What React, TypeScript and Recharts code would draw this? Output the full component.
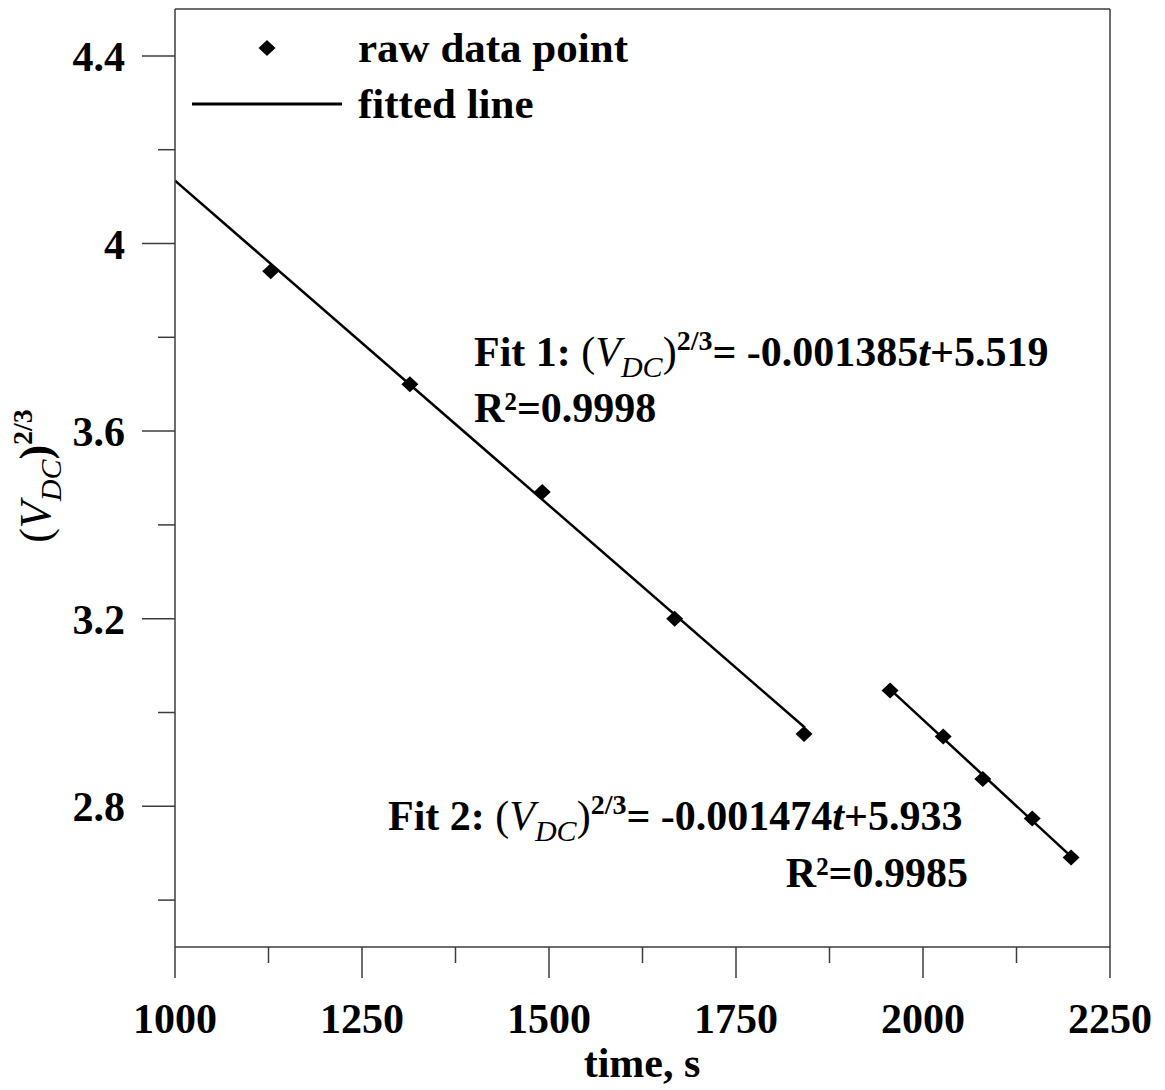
import React from 'react';
import { ComposedChart, Scatter, Line, XAxis, YAxis, ReferenceLine, Customized } from 'recharts';

// ---- data ----
const rawTime = [1128, 1314, 1491, 1668, 1841, 1956, 2027, 2080, 2146, 2198];
const rawValue = [3.941, 3.7, 3.47, 3.2, 2.954, 3.047, 2.949, 2.858, 2.774, 2.691];
const fit1Time = [1000, 1842];
const fit1Value = [4.134, 2.968];
const fit2Time = [1955, 2200];
const fit2Value = [3.051, 2.69];
const xTicks = [1000, 1125, 1250, 1375, 1500, 1625, 1750, 1875, 2000, 2125, 2250];
const xTickLabels = ['1000', '', '1250', '', '1500', '', '1750', '', '2000', '', '2250'];
const yTicks = [2.6, 2.8, 3.0, 3.2, 3.4, 3.6, 3.8, 4.0, 4.2, 4.4];
const yTickLabels = ['', '2.8', '', '3.2', '', '3.6', '', '4', '', '4.4'];

const rawData = rawTime.map((t, i) => ({ t, v: rawValue[i] }));
const fit1Data = fit1Time.map((t, i) => ({ t, v: fit1Value[i] }));
const fit2Data = fit2Time.map((t, i) => ({ t, v: fit2Value[i] }));

const FONT = "'Liberation Serif', 'Times New Roman', serif";
const AXIS = '#3c3c3c';
const FS = 42;

const XTick = (props: any) => {
  const { x, y, payload } = props;
  const idx = xTicks.findIndex((v) => Math.abs(v - payload.value) < 1e-6);
  const label = xTickLabels[idx] || '';
  const major = label !== '';
  return (
    <g>
      <line x1={x} x2={x} y1={y} y2={y + (major ? 31 : 16)} stroke={AXIS} strokeWidth={1.5} />
      {major && (
        <text x={x} y={y + 86} textAnchor="middle" fontFamily={FONT} fontWeight="bold" fontSize={FS} fill="#000">
          {label}
        </text>
      )}
    </g>
  );
};

const YTick = (props: any) => {
  const { x, y, payload } = props;
  const idx = yTicks.findIndex((v) => Math.abs(v - payload.value) < 1e-6);
  const label = yTickLabels[idx] || '';
  const major = label !== '';
  return (
    <g>
      <line x1={x - (major ? 33 : 17)} x2={x} y1={y} y2={y} stroke={AXIS} strokeWidth={1.5} />
      {major && (
        <text x={x - 50} y={y + 15} textAnchor="end" fontFamily={FONT} fontWeight="bold" fontSize={FS} fill="#000">
          {label}
        </text>
      )}
    </g>
  );
};

const Diamond = (props: any) => {
  const { cx, cy } = props;
  const r = 8;
  return <polygon points={`${cx},${cy - r} ${cx + r + 0.5},${cy} ${cx},${cy + r} ${cx - r - 0.5},${cy}`} fill="#000" />;
};

const Overlay = () => (
  <g fontFamily={FONT} fontWeight="bold" fill="#000">
    {/* legend */}
    <polygon points="267,40 275.5,48 267,56 258.5,48" fill="#000" />
    <text x={358} y={62} fontSize={43}>raw data point</text>
    <line x1={192} x2={342} y1={104} y2={104} stroke="#000" strokeWidth={3} />
    <text x={358} y={118} fontSize={43}>fitted line</text>

    {/* y axis label */}
    <text transform="translate(50,476) rotate(-90)" textAnchor="middle" fontSize={44}>
      <tspan fontWeight="normal">(</tspan>
      <tspan fontStyle="italic" fontWeight="normal">V</tspan>
      <tspan fontStyle="italic" fontWeight="normal" fontSize={30} dy={11}>DC</tspan>
      <tspan dy={-11}>)</tspan>
      <tspan fontSize={28} dy={-18}>2/3</tspan>
    </text>

    {/* x axis label */}
    <text x={642} y={1077} textAnchor="middle" fontSize={FS}>time, s</text>

    {/* fit 1 annotation */}
    <text x={474} y={366} fontSize={FS}>
      <tspan>Fit 1: </tspan>
      <tspan fontWeight="normal">(</tspan>
      <tspan fontStyle="italic" fontWeight="normal">V</tspan>
      <tspan fontStyle="italic" fontWeight="normal" fontSize={30} dy={11}>DC</tspan>
      <tspan fontWeight="normal" dy={-11}>)</tspan>
      <tspan fontSize={28} dy={-16}>2/3</tspan>
      <tspan dy={16}>= -0.001385</tspan>
      <tspan fontStyle="italic">t</tspan>
      <tspan>+5.519</tspan>
    </text>
    <text x={474} y={422} fontSize={FS}>R²=0.9998</text>

    {/* fit 2 annotation */}
    <text x={388} y={830} fontSize={FS}>
      <tspan>Fit 2: </tspan>
      <tspan fontWeight="normal">(</tspan>
      <tspan fontStyle="italic" fontWeight="normal">V</tspan>
      <tspan fontStyle="italic" fontWeight="normal" fontSize={30} dy={11}>DC</tspan>
      <tspan fontWeight="normal" dy={-11}>)</tspan>
      <tspan fontSize={28} dy={-16}>2/3</tspan>
      <tspan dy={16}>= -0.001474</tspan>
      <tspan fontStyle="italic">t</tspan>
      <tspan>+5.933</tspan>
    </text>
    <text x={968} y={887} textAnchor="end" fontSize={FS}>R²=0.9985</text>
  </g>
);

export default function App() {
  return (
    <div style={{ position: 'absolute', left: 0, top: 0, background: '#fff' }}>
      <ComposedChart width={1165} height={1090} margin={{ top: 9, right: 55, bottom: 0, left: 0 }}>
        <XAxis
          dataKey="t"
          type="number"
          domain={[1000, 2250]}
          ticks={xTicks}
          interval={0}
          height={143}
          tickSize={0}
          tickMargin={0}
          tickLine={false}
          axisLine={{ stroke: AXIS, strokeWidth: 1.5 }}
          tick={<XTick />}
          allowDataOverflow
        />
        <YAxis
          dataKey="v"
          type="number"
          domain={[2.5, 4.5]}
          ticks={yTicks}
          interval={0}
          width={175}
          tickSize={0}
          tickMargin={0}
          tickLine={false}
          axisLine={{ stroke: AXIS, strokeWidth: 1.5 }}
          tick={<YTick />}
          allowDataOverflow
        />
        <ReferenceLine y={4.5} stroke={AXIS} strokeWidth={1.5} />
        <ReferenceLine x={2250} stroke={AXIS} strokeWidth={1.5} />
        <Line data={fit1Data} dataKey="v" stroke="#000" strokeWidth={2.5} dot={false} isAnimationActive={false} legendType="none" />
        <Line data={fit2Data} dataKey="v" stroke="#000" strokeWidth={2.5} dot={false} isAnimationActive={false} legendType="none" />
        <Scatter data={rawData} dataKey="v" shape={<Diamond />} isAnimationActive={false} />
        <Customized component={Overlay} />
      </ComposedChart>
    </div>
  );
}
